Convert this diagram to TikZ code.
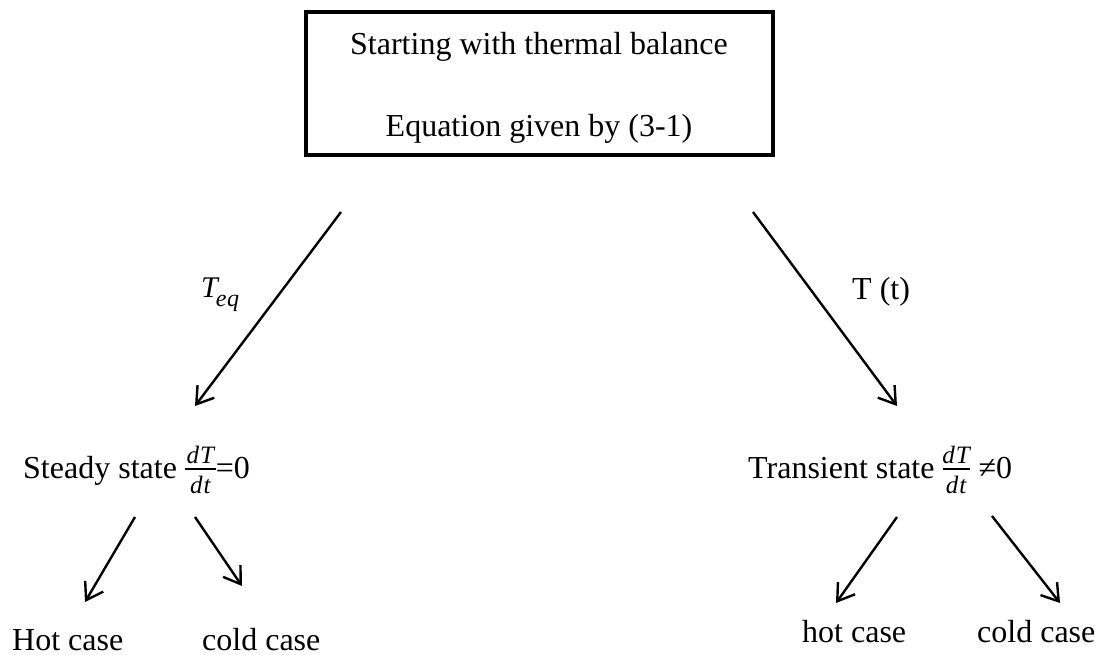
\documentclass[tikz,border=0pt]{standalone}
\usepackage{fontspec}
\setmainfont{Liberation Serif}
\usetikzlibrary{arrows.meta}
\newcommand{\fracfont}{\fontsize{25}{25}\selectfont\itshape}
% fraction dT/dt, #1 = width of the bar
\newcommand{\dTdt}[1]{\mbox{\rlap{\raisebox{15pt}{\makebox[#1]{\fracfont d\kern1pt T}}}\rlap{\raisebox{-15pt}{\makebox[#1]{\fracfont d\kern1pt t}}}\raisebox{8pt}{\rule{#1}{2pt}}}}
\tikzset{
  lbl/.style={anchor=base west, inner sep=0pt, font=\fontsize{32}{38}\selectfont},
  boxtext/.style={anchor=base, inner sep=0pt, font=\fontsize{32}{38}\selectfont},
  arr/.style={line width=2.4pt, -{Straight Barb[length=16pt,width=21pt,line width=2.4pt]}},
  mainbox/.style={draw, line width=4pt, minimum width=467pt, minimum height=143pt, inner sep=0pt}
}
\begin{document}
\begin{tikzpicture}[x=1pt,y=-1pt]
\path[use as bounding box] (0,0) rectangle (1120,655);
\node[mainbox] (box) at (539.5,83.5) {};
\node[boxtext] (l1) at (539,55) {Starting with thermal balance};
\node[boxtext] (l2) at (539,137) {Equation given by (3-1)};

\coordinate (ls) at (341,212);
\coordinate (le) at (195,406);
\coordinate (rs) at (753,212);
\coordinate (re) at (897,406);
\draw[arr] (ls) -- (le);
\draw[arr] (rs) -- (re);

\node[lbl] (teq) at (201,298) {{\fontsize{30}{32}\selectfont\itshape T}\kern-2pt\raisebox{-9pt}{\fontsize{24}{24}\selectfont\itshape e\kern0.5pt q}};
\node[lbl] (tt) at (852,300) {T (t)};

\node[lbl] (steady) at (23,478) {Steady state\kern8pt\dTdt{31pt}=0};
\node[lbl] (trans) at (748,478) {Transient state\kern8pt\dTdt{27pt}\kern9pt≠0};

\coordinate (h1s) at (135,517);
\coordinate (h1e) at (85,602);
\coordinate (c1s) at (195,517);
\coordinate (c1e) at (242,586);
\coordinate (h2s) at (897,517);
\coordinate (h2e) at (836,603);
\coordinate (c2s) at (992,516);
\coordinate (c2e) at (1060,603);
\draw[arr] (h1s) -- (h1e);
\draw[arr] (c1s) -- (c1e);
\draw[arr] (h2s) -- (h2e);
\draw[arr] (c2s) -- (c2e);

\node[lbl] (hot1) at (12,650) {Hot case};
\node[lbl] (cold1) at (202,650) {cold case};
\node[lbl] (hot2) at (802,642) {hot case};
\node[lbl] (cold2) at (977,642) {cold case};
\end{tikzpicture}
\end{document}
